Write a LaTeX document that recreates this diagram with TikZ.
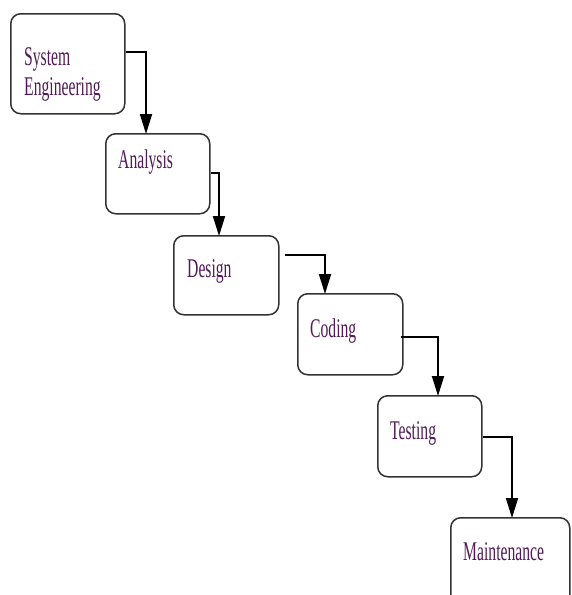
\documentclass[tikz,border=0pt]{standalone}
\usepackage{fontspec}
\setmainfont[FakeStretch=0.58]{Liberation Serif}
\usetikzlibrary{arrows.meta}
\definecolor{txt}{HTML}{521A58}
\definecolor{edge}{HTML}{333333}
\tikzset{
  x=1pt, y=-1pt,
  stage/.style={draw=edge, line width=1.5pt, rounded corners=10pt, fill=white, anchor=north west, inner sep=0pt},
  lbl/.style={anchor=base west, inner sep=0pt, text=txt, font=\fontsize{27}{30}\selectfont, align=left},
  arr/.style={draw=black, line width=1.8pt, -{Triangle[width=12pt,length=20pt]}},
}
\begin{document}
\begin{tikzpicture}
\useasboundingbox (0,0) rectangle (572,595);
\begin{scope}
\clip (0,0) rectangle (572,595);
\node[stage, minimum width=114pt, minimum height=100pt] (se) at (10,13) {};
\node[stage, minimum width=104pt, minimum height=80pt] (an) at (105,133) {};
\node[stage, minimum width=105pt, minimum height=79pt] (de) at (173,235) {};
\node[stage, minimum width=105pt, minimum height=81pt] (co) at (297,293) {};
\node[stage, minimum width=104pt, minimum height=81pt] (te) at (377,395) {};
\node[stage, minimum width=119pt, minimum height=100pt] (ma) at (450,517) {};
\end{scope}
\node[lbl] (set) at (24,95) {System\\Engineering};
\node[lbl] (ant) at (118,168) {Analysis};
\node[lbl] (det) at (187,277) {Design};
\node[lbl] (cot) at (310,337) {Coding};
\node[lbl] (tet) at (390,439) {Testing};
\node[lbl] (mat) at (463,560) {Maintenance};
\coordinate (a1) at (146,134);
\coordinate (a2) at (219,236);
\coordinate (a3) at (325,294);
\coordinate (a4) at (438,396);
\coordinate (a5) at (512,518);
\draw[arr] (se.east |- 0,52) -| (a1);
\draw[arr] (an.east |- 0,173) -| (a2);
\draw[arr] ([xshift=5pt]de.east |- 0,255) -| (a3);
\draw[arr] ([xshift=-3pt]co.east |- 0,337) -| (a4);
\draw[arr] (te.east |- 0,437) -| (a5);
\end{tikzpicture}
\end{document}
